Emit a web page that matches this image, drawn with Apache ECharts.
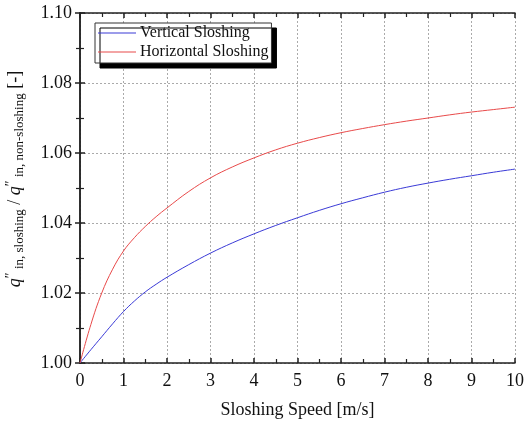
<!DOCTYPE html>
<html>
<head>
<meta charset="utf-8">
<script src="https://cdn.jsdelivr.net/npm/echarts@6/dist/echarts.min.js"></script>
<style>html,body{margin:0;padding:0;background:#fff}#c{width:527px;height:421px}</style>
</head>
<body>
<div id="c"></div>
<script>
const speeds = [0, 0.25, 0.5, 0.75, 1, 1.25, 1.5, 1.75, 2, 2.5, 3, 3.5, 4, 4.5, 5, 5.5, 6, 6.5, 7, 7.5, 8, 8.5, 9, 9.5, 10];
const verticalSloshing = [1.000, 1.0038, 1.0075, 1.0112, 1.0147, 1.0177, 1.0203, 1.0225, 1.0245, 1.0281, 1.0314, 1.0343, 1.0369, 1.0393, 1.0415, 1.0436, 1.0455, 1.0472, 1.0488, 1.0502, 1.0514, 1.0525, 1.0535, 1.0545, 1.0554];
const horizontalSloshing = [1.000, 1.0110, 1.0200, 1.0268, 1.0320, 1.0358, 1.0390, 1.0418, 1.0443, 1.0490, 1.0529, 1.0560, 1.0586, 1.0609, 1.0628, 1.0644, 1.0658, 1.0670, 1.0681, 1.0691, 1.0700, 1.0709, 1.0717, 1.0724, 1.0731];
const seriesNames = ['Vertical Sloshing', 'Horizontal Sloshing'];
const xTitle = 'Sloshing Speed [m/s]';

const FONT = 'Liberation Serif';
const BLUE = '#3a3ad6', RED = '#e84a4a';
const chart = echarts.init(document.getElementById('c'));
const pairs = (ys) => speeds.map((x, i) => [x, ys[i]]);
const axisLine = {show: true, lineStyle: {color: '#222', width: 1.5}};
const tick = {show: true, inside: true, length: 5, lineStyle: {color: '#222', width: 1.5}};
const minor = {show: true, splitNumber: 2, length: 4, lineStyle: {color: '#222', width: 1.2}};
const grid = {show: true, lineStyle: {type: [2, 2], color: '#aaa', width: 1}};
const linePath = 'path://M0 0H40V1H0Z';

chart.setOption({
  animation: false,
  grid: {left: 80, right: 12, top: 13, bottom: 58, containLabel: false, outerBoundsMode: 'none'},
  legend: {
    left: 95, top: 23, orient: 'vertical',
    data: [
      {name: seriesNames[0], icon: linePath, itemStyle: {color: BLUE}},
      {name: seriesNames[1], icon: linePath, itemStyle: {color: RED}}
    ],
    backgroundColor: '#fff', borderColor: '#333', borderWidth: 1,
    shadowColor: '#000', shadowBlur: 0, shadowOffsetX: 5, shadowOffsetY: 5,
    padding: [2, 3, 3, 3], itemGap: 3, itemWidth: 38, itemHeight: 1.2,
    textStyle: {fontFamily: FONT, fontSize: 16, color: '#111', padding: [0, 0, 0, -1]}
  },
  xAxis: [{
    type: 'value', min: 0, max: 10, interval: 1,
    name: xTitle, nameLocation: 'middle', nameGap: 38,
    nameTextStyle: {fontFamily: FONT, fontSize: 18, color: '#111'},
    axisLine, axisTick: tick, minorTick: minor,
    axisLabel: {fontFamily: FONT, fontSize: 18, color: '#111', margin: 9},
    splitLine: grid
  }, {
    type: 'value', min: 0, max: 10, interval: 1, position: 'top',
    axisLine, axisTick: tick, minorTick: minor, axisLabel: {show: false}, splitLine: {show: false}
  }],
  yAxis: [{
    type: 'value', min: 1.00, max: 1.10, interval: 0.02,
    name: '{q|q}{s|″}{sub| in, sloshing}{n| / }{q|q}{s|″}{sub| in, non-sloshing}{n| [-]}',
    nameLocation: 'middle', nameGap: 54, nameRotate: 90,
    nameTextStyle: {
      fontFamily: FONT, color: '#111', padding: [0, 0, 0, 18],
      rich: {
        q: {fontFamily: FONT, fontStyle: 'italic', fontSize: 18, color: '#111'},
        s: {fontFamily: FONT, fontSize: 14, color: '#111', verticalAlign: 'top', padding: [0, 0, 6, 0]},
        sub: {fontFamily: FONT, fontSize: 13, color: '#111', padding: [9, 0, 0, 0]},
        n: {fontFamily: FONT, fontSize: 18, color: '#111'}
      }
    },
    axisLine, axisTick: tick, minorTick: minor,
    axisLabel: {fontFamily: FONT, fontSize: 18, color: '#111', margin: 8, formatter: v => v.toFixed(2)},
    splitLine: grid
  }, {
    type: 'value', min: 1.00, max: 1.10, interval: 0.02, position: 'right',
    axisLine, axisTick: tick, minorTick: minor, axisLabel: {show: false}, splitLine: {show: false}
  }],
  series: [
    {name: seriesNames[0], type: 'line', smooth: 0.4, symbol: 'none', data: pairs(verticalSloshing),
     lineStyle: {color: BLUE, width: 1}, itemStyle: {color: BLUE}},
    {name: seriesNames[1], type: 'line', smooth: 0.4, symbol: 'none', data: pairs(horizontalSloshing),
     lineStyle: {color: RED, width: 1}, itemStyle: {color: RED}}
  ]
});
</script>
</body>
</html>
